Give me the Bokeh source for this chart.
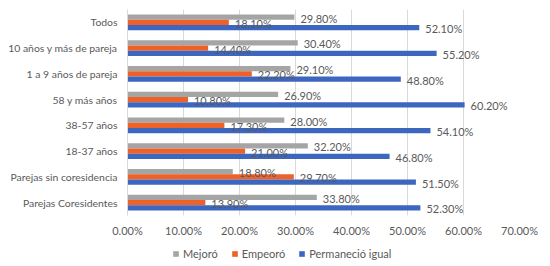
from bokeh.plotting import figure
from bokeh.layouts import column
from bokeh.models import ColumnDataSource, FixedTicker, Legend, LegendItem, Range1d
from bokeh.transform import dodge
from bokeh.core.properties import value
from bokeh.embed import file_html
from bokeh.resources import INLINE

categories = ["Todos", "10 años y más de pareja", "1 a 9 años de pareja", "58 y más años",
              "38-57 años", "18-37 años", "Parejas sin coresidencia", "Parejas Coresidentes"]
mejoro = [29.8, 30.4, 29.1, 26.9, 28.0, 32.2, 18.8, 33.8]
empeoro = [18.1, 14.4, 22.2, 10.8, 17.3, 21.0, 29.7, 13.9]
igual = [52.1, 55.2, 48.8, 60.2, 54.1, 46.8, 51.5, 52.3]
series_names = ["Mejoró", "Empeoró", "Permaneció igual"]
colors = ["#A5A5A5", "#EE6129", "#3D66BE"]
x_ticks = [0, 10, 20, 30, 40, 50, 60, 70]

FONT = "Lato"
TXT = "#595959"

src = ColumnDataSource(dict(
    cat=categories, m=mejoro, e=empeoro, i=igual,
    ml=[f"{v:.2f}%" for v in mejoro],
    el=[f"{v:.2f}%" for v in empeoro],
    il=[f"{v:.2f}%" for v in igual],
))

p = figure(width=550, height=241, y_range=list(reversed(categories)), x_range=(0, 70),
           output_backend="svg", toolbar_location=None,
           min_border_left=127, min_border_right=31, min_border_top=9, min_border_bottom=26)
p.outline_line_color = None

bh = 0.207
p.hbar(y=dodge("cat", bh, range=p.y_range), right="m", height=bh, source=src,
       color=colors[0], line_color=None)
p.hbar(y=dodge("cat", 0, range=p.y_range), right="e", height=bh, source=src,
       color=colors[1], line_color=None)
p.hbar(y=dodge("cat", -bh, range=p.y_range), right="i", height=bh, source=src,
       color=colors[2], line_color=None)

common = dict(text_font=value(FONT), text_font_size="11px", text_color=TXT,
              text_baseline="middle", text_align="left", x_offset=6, y_offset=1, source=src)
p.text(x="m", y=dodge("cat", bh, range=p.y_range), text="ml", **common)
p.text(x="i", y=dodge("cat", -bh, range=p.y_range), text="il", **common)
p.text(x="e", y=dodge("cat", 0, range=p.y_range), text="el", **common)

p.xaxis.ticker = FixedTicker(ticks=x_ticks)
p.xaxis.major_label_overrides = {t: f"{t:.2f}%" for t in x_ticks}
p.xaxis.axis_line_color = None
p.xaxis.major_tick_line_color = None
p.xaxis.minor_tick_line_color = None
p.xaxis.major_tick_out = 0
p.xaxis.major_label_text_font = FONT
p.xaxis.major_label_text_font_size = "11px"
p.xaxis.major_label_text_color = TXT
p.xaxis.major_label_standoff = 8

p.yaxis.axis_line_color = "#D9D9D9"
p.yaxis.major_tick_line_color = None
p.yaxis.minor_tick_line_color = None
p.yaxis.major_tick_out = 0
p.yaxis.major_label_text_font = FONT
p.yaxis.major_label_text_font_size = "10.4px"
p.yaxis.major_label_text_color = TXT
p.yaxis.major_label_standoff = 10

p.xgrid.grid_line_color = "#D9D9D9"
p.ygrid.grid_line_color = None

# legend strip below the chart (its frame is aligned with the chart's frame by column)
lg = figure(width=550, height=25, x_range=Range1d(0, 1), y_range=Range1d(0, 1),
            output_backend="svg", toolbar_location=None,
            min_border_left=0, min_border_right=0, min_border_top=0, min_border_bottom=0)
lg.axis.visible = False
lg.grid.visible = False
lg.outline_line_color = None
dummy = [lg.quad(left=[-10], right=[-9], bottom=[-10], top=[-9], color=c, line_color=None)
         for c in colors]
legend = Legend(items=[LegendItem(label=n, renderers=[r]) for n, r in zip(series_names, dummy)],
                orientation="horizontal", location=(45, 6),
                label_text_font=FONT, label_text_font_size="11px", label_text_color=TXT,
                glyph_width=7, glyph_height=7, spacing=13, label_standoff=4,
                padding=0, margin=0,
                border_line_color=None, background_fill_alpha=0)
lg.add_layout(legend, "center")

open("out.html", "w").write(file_html(column(p, lg, spacing=0), INLINE))
